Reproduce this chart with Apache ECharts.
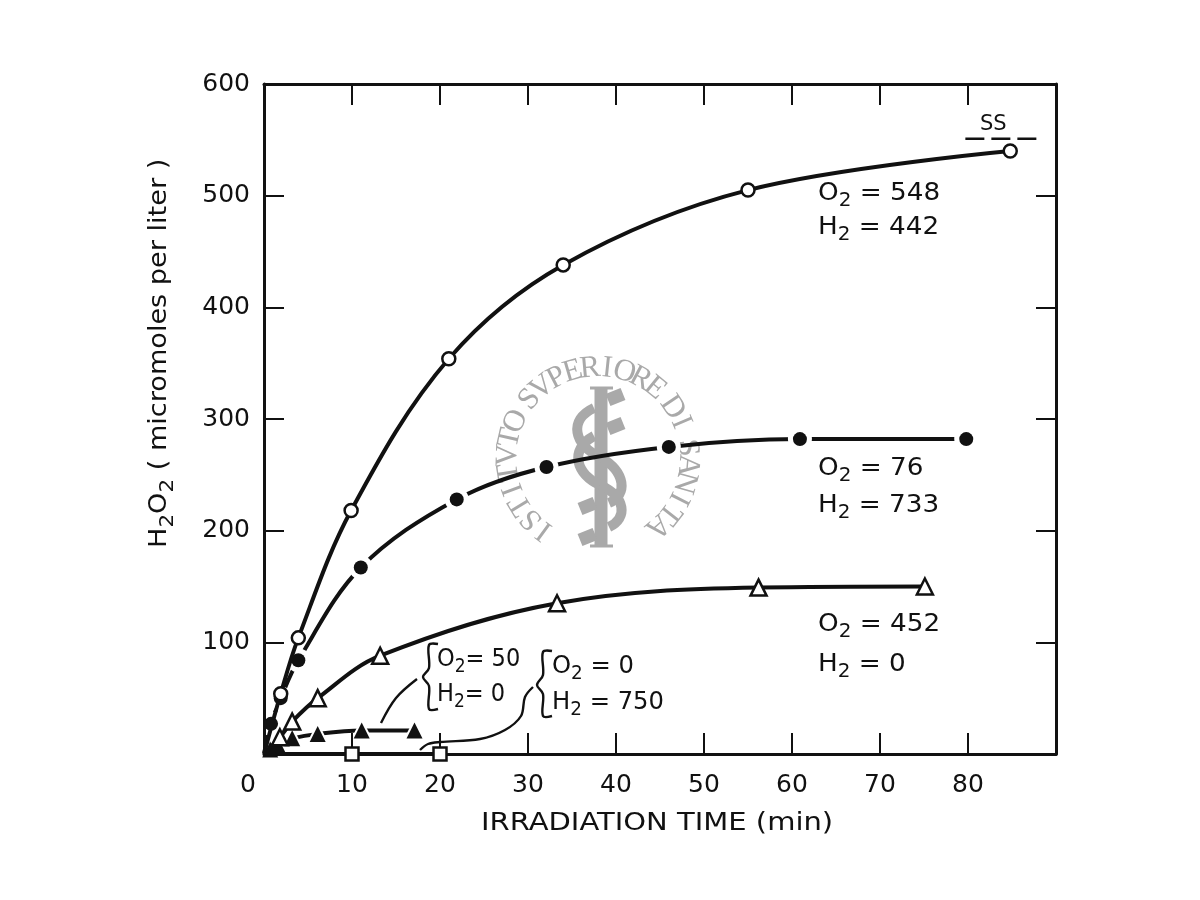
<!DOCTYPE html>
<html><head><meta charset="utf-8">
<style>html,body{margin:0;background:#fff}#c{width:1200px;height:900px}</style>
<script src="https://cdn.jsdelivr.net/npm/echarts@6/dist/echarts.min.js"></script>
</head><body><div id="c"></div>
<script>
const openCircleX=[0,1.9,3.9,9.9,21,34,55,84.8];
const openCircleY=[0,54,104,218,354,438,505,540];
const filledCircleX=[0,0.8,1.9,3.9,11,21.9,32.1,46,60.9,79.8];
const filledCircleY=[0,27,50,84,167,228,257,275,282,282];
const openTriangleX=[0,1.8,3.2,6.1,13.2,33.3,56.2,75.1];
const openTriangleY=[0,15,29,50,88,135,149,150];
const filledTriangleX=[0,0.7,1.5,3.2,6.1,11.1,17.1];
const filledTriangleY=[0,4,9,14,18,21,21];
const squareX=[0,10,20];
const squareY=[0,0,0];
const ssX=[79.7,87.9];
const ssY=[551,551];
const xTicks=[0,10,20,30,40,50,60,70,80];
const yTicks=[0,100,200,300,400,500,600];
const sealText='ISTITVTO SVPERIORE DI SANITA';
const font='DejaVu Sans';
const ink='#111';
const pairs=(x,y)=>x.map((v,i)=>i===0?{value:[v,y[i]],symbol:'none'}:[v,y[i]]);
function seal(){
  const out=[];const grey='#a9a9a9';
  const cx=598,cy=458,r=90,step=282.5/25.5;
  let a=-143.6;
  for(const ch of sealText){
    if(ch===' '){a+=step*0.5;continue;}
    const t=a*Math.PI/180;
    out.push({type:'text',x:cx+r*Math.sin(t),y:cy-r*Math.cos(t),rotation:-t,z:-1,
      style:{text:ch,font:'31px "Liberation Serif"',fill:grey,textAlign:'center',textVerticalAlign:'middle'}});
    a+=step;
  }
  const ln=(x1,y1,x2,y2,w)=>({type:'line',z:-1,shape:{x1,y1,x2,y2},style:{stroke:grey,lineWidth:w}});
  out.push(ln(601,387,601,547,13),ln(590,388,613,388,3),ln(590,546,613,546,3));
  out.push(ln(608,400,623,394,13),ln(608,429,623,423,13),ln(580,509,595,503,13),ln(580,540,595,534,13));
  const bz=(x1,y1,cpx1,cpy1,cpx2,cpy2,x2,y2)=>({type:'bezierCurve',z:-1,shape:{x1,y1,cpx1,cpy1,cpx2,cpy2,x2,y2},style:{stroke:grey,lineWidth:10,fill:null}});
  out.push(bz(594,408,568,420,574,445,600,457),bz(600,457,626,472,628,495,609,503),
           bz(594,436,568,450,577,475,600,485),bz(600,485,626,497,628,518,609,527));
  return out;
}
const rich={s:{fontFamily:font,fontSize:19,fill:ink,verticalAlign:'bottom',lineHeight:36}};
const tx=(text,x,y,size,extra)=>Object.assign({type:'text',x,y,z:5,
  style:{text,fontFamily:font,fontSize:size||25,fill:ink,textVerticalAlign:'middle',rich}},extra||{});
const pl=(points,w)=>({type:'polyline',z:5,shape:{points,smooth:0.35},style:{stroke:ink,lineWidth:w||2.4,fill:null}});
const wide={scaleX:1.05},narrow={scaleX:0.9},slim={scaleX:0.97};
const notes=[
  tx('O{s|2} = 548',818,193,25,wide),tx('H{s|2} = 442',818,227,25,wide),
  tx('O{s|2} = 76',818,468,25,wide),tx('H{s|2} = 733',818,505,25,wide),
  tx('O{s|2} = 452',818,624,25,wide),tx('H{s|2} = 0',818,664,25,wide),
  tx('O{s|2}= 50',437,659,25,narrow),tx('H{s|2}= 0',437,694,25,narrow),
  tx('O{s|2} = 0',552,666,25,slim),tx('H{s|2} = 750',552,702,25,slim),
  tx('SS',980,125,21),
  tx('IRRADIATION TIME (min)',481,823,25,{scaleX:1.16}),
  {type:'text',x:160,y:548,z:5,rotation:Math.PI/2,scaleX:1.13,
   style:{text:'H{s|2}O{s|2} ( micromoles per liter )',fontFamily:font,fontSize:24,fill:ink,textVerticalAlign:'middle',rich}},
  pl([[438,644],[429,645],[429,668],[423,677],[429,686],[429,709],[438,709]]),
  pl([[552,651],[543,652],[543,675],[537,685],[543,694],[543,716],[552,716]]),
  pl([[417,679],[396,698],[381,723]]),
  pl([[533,687],[525,697],[521,716],[505,730],[480,739],[440,742],[428,744],[420,750]])
];
const chart=echarts.init(document.getElementById('c'),null,{renderer:'canvas'});
const base=(name,x,y)=>({name,type:'line',data:pairs(x,y),showSymbol:true,showAllSymbol:true,animation:false,clip:false,silent:true});
const line=(name,x,y,sym,size,extra)=>Object.assign(base(name,x,y),{smooth:0.35,symbol:sym,symbolSize:size,
  lineStyle:{color:ink,width:4},itemStyle:{color:'#fff',borderColor:ink,borderWidth:2.5,opacity:1}},extra||{});
const solid=(name,x,y,sym,size,z)=>Object.assign(base(name,x,y),{symbol:sym,symbolSize:size,lineStyle:{opacity:0,width:0},
  itemStyle:{color:ink,borderWidth:0},z});
const haloStyle={color:'#fff',borderWidth:0};
const axisLine={show:true,onZero:false,lineStyle:{color:ink,width:3}};
chart.setOption({
  backgroundColor:'#fff',animation:false,
  grid:{left:264,top:84,width:792,height:670},
  graphic:{elements:seal().concat(notes)},
  xAxis:[{type:'value',z:2,min:0,max:90,interval:10,position:'bottom',splitLine:{show:false},axisLine,
    axisTick:{inside:true,length:21,lineStyle:{color:ink,width:2}},
    axisLabel:{margin:19,color:ink,fontFamily:font,fontSize:25,showMaxLabel:false,
      formatter:v=>v===0?'{z|0}':(xTicks.includes(v)?String(v):''),rich:{z:{padding:[0,32,0,0],fontFamily:font,fontSize:25,color:ink}}}},
   {type:'value',z:2,min:0,max:90,interval:10,position:'top',splitLine:{show:false},axisLine,
    axisTick:{inside:true,length:21,lineStyle:{color:ink,width:2}},axisLabel:{show:false}}],
  yAxis:[{type:'value',z:2,min:0,max:600,interval:100,position:'left',splitLine:{show:false},axisLine,
    axisTick:{inside:true,length:20,lineStyle:{color:ink,width:2}},
    axisLabel:{margin:14,color:ink,fontFamily:font,fontSize:25,showMinLabel:false,formatter:v=>yTicks.includes(v)?String(v):''}},
   {type:'value',z:2,min:0,max:600,interval:100,position:'right',splitLine:{show:false},axisLine,
    axisTick:{inside:true,length:20,lineStyle:{color:ink,width:2}},axisLabel:{show:false}}],
  series:[
    line('O2=50,H2=0',filledTriangleX,filledTriangleY,'triangle',25,{itemStyle:haloStyle,z:1}),
    line('O2=76,H2=733',filledCircleX,filledCircleY,'circle',24,{itemStyle:haloStyle,z:1}),
    line('O2=0,H2=750',squareX,squareY,'rect',13,{smooth:false,z:3}),
    solid('O2=50,H2=0 marks',filledTriangleX,filledTriangleY,'triangle',16,3.5),
    line('O2=452,H2=0',openTriangleX,openTriangleY,'triangle',16,{z:4}),
    solid('O2=76,H2=733 marks',filledCircleX,filledCircleY,'circle',14,4.5),
    line('O2=548,H2=442',openCircleX,openCircleY,'circle',13,{z:5}),
    {name:'SS',type:'line',data:ssX.map((v,i)=>[v,ssY[i]]),symbol:'none',silent:true,animation:false,
     lineStyle:{color:ink,width:2.5,type:[19,7]}}
  ]
});
</script></body></html>
